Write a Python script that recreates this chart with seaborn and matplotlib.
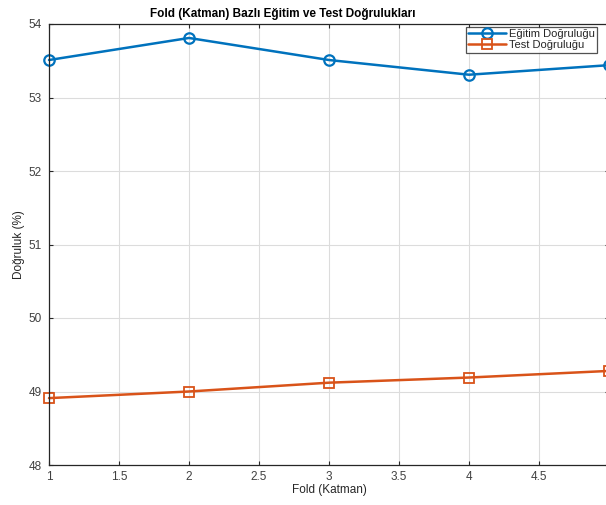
import pandas as pd
import matplotlib.pyplot as plt
import seaborn as sns

# veriler
folds = [1, 2, 3, 4, 5]
egitim = [53.51, 53.81, 53.51, 53.31, 53.44]
test = [48.91, 49.00, 49.12, 49.19, 49.28]
x_ticks = [1, 1.5, 2, 2.5, 3, 3.5, 4, 4.5, 5]
x_labels = ['1', '1.5', '2', '2.5', '3', '3.5', '4', '4.5', '']
y_ticks = [48, 49, 50, 51, 52, 53, 54]

sns.set_style("whitegrid")
plt.rcParams['font.family'] = ['Liberation Sans', 'DejaVu Sans']

fig = plt.figure(figsize=(6.06, 5.05), dpi=100)
ax = fig.add_axes([49 / 606, 40 / 505, 560 / 606, 441 / 505])

df = pd.DataFrame({'fold': folds, 'egitim': egitim, 'test': test})
sns.lineplot(data=df, x='fold', y='egitim', ax=ax, color='#0072BD', lw=1.8,
             marker='o', markersize=7.5, markerfacecolor='none',
             markeredgecolor='#0072BD', markeredgewidth=1.6,
             label='Eğitim Doğruluğu', clip_on=False)
sns.lineplot(data=df, x='fold', y='test', ax=ax, color='#D95319', lw=1.8,
             marker='s', markersize=7, markerfacecolor='none',
             markeredgecolor='#D95319', markeredgewidth=1.3,
             label='Test Doğruluğu', clip_on=False)

ax.set_xlim(1, 5)
ax.set_ylim(48, 54)
ax.set_xticks(x_ticks)
ax.set_xticklabels(x_labels)
ax.set_yticks(y_ticks)
ax.tick_params(labelsize=8.5, colors='#262626', labelcolor='#404040',
               direction='in', length=3, width=0.8,
               left=True, bottom=True, top=True, right=True)
ax.tick_params(axis='y', pad=5)
ax.tick_params(axis='x', pad=4)
ax.grid(True, color='#dcdcdc', lw=0.8)
for s in ax.spines.values():
    s.set_color('#262626')
    s.set_linewidth(0.9)

ax.set_xlabel('Fold (Katman)', fontsize=8.5, color='#262626', labelpad=1)
ax.set_ylabel('Doğruluk (%)', fontsize=8.5, color='#262626', labelpad=3)
fig.text(283 / 606, 497 / 505, 'Fold (Katman) Bazlı Eğitim ve Test Doğrulukları',
         ha='center', va='top', fontsize=8.5, fontweight='bold', color='black')

leg = ax.legend(loc='upper left', bbox_to_anchor=((466 - 49) / 560, 1 - 3 / 441),
                bbox_transform=ax.transAxes,
                fontsize=8, frameon=True, fancybox=False,
                edgecolor='#262626', borderpad=0.2, labelspacing=0.1,
                handlelength=3.4, handletextpad=0.3, borderaxespad=0)
leg.get_frame().set_linewidth(0.9)

fig.savefig('out.png', dpi=100)
